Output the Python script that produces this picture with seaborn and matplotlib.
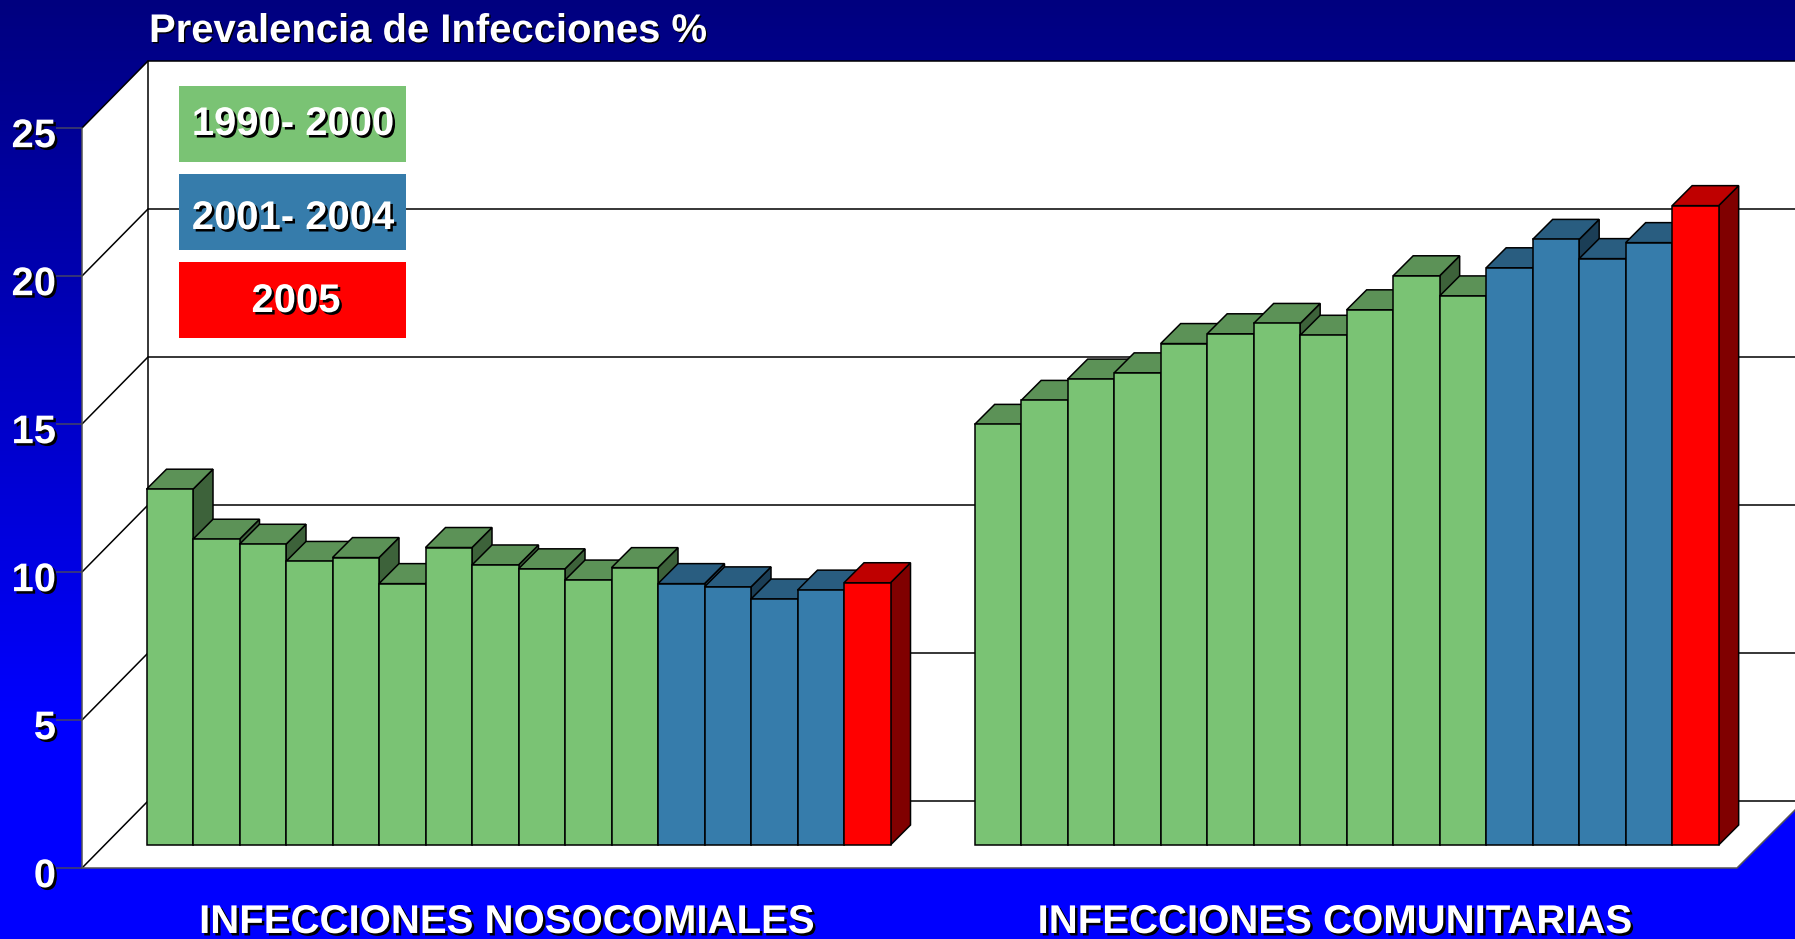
import numpy as np
import pandas as pd
import matplotlib
matplotlib.use("Agg")
import matplotlib.pyplot as plt
import matplotlib.patheffects as pe
from matplotlib.colors import LinearSegmentedColormap, to_rgb
from matplotlib.patches import Polygon, Rectangle
from matplotlib.transforms import Affine2D, ScaledTranslation
import seaborn as sns

OUTPUT = "out.png"
WIDTH, HEIGHT = 1795, 939

# valores
NOSOCOMIALES = [12.02, 10.33, 10.16, 9.58, 9.71, 8.83, 10.05, 9.46, 9.33, 8.95, 9.37,
                8.83, 8.72, 8.31, 8.61, 8.86]
COMUNITARIAS = [14.21, 15.02, 15.74, 15.95, 16.94, 17.27, 17.62, 17.22, 18.08, 19.23, 18.55,
                19.5, 20.46, 19.81, 20.35, 21.6]
PERIODOS = ["1990- 2000"] * 11 + ["2001- 2004"] * 4 + ["2005"]
COLORES = {"1990- 2000": "#7AC374", "2001- 2004": "#367CAB", "2005": "#FF0000"}
YTICKS = [0, 5, 10, 15, 20, 25]
TITULO = "Prevalencia de Infecciones %"
GRUPOS = ["INFECCIONES NOSOCOMIALES", "INFECCIONES COMUNITARIAS"]

# geometria en pixeles de la "caja" 3D
BAR_W = 46.5       # px por barra
UNIT = 29.6        # px por unidad de y
BASE_X = 146.5     # borde izquierdo de la primera barra
BASE_Y = 845       # base de las barras
GROUP_GAP = 1.81   # hueco entre grupos, en anchos de barra


def shade(color, factor):
    return tuple(c * factor for c in to_rgb(color))


def x_of(px):
    return (px - BASE_X) / BAR_W - 0.5


def y_of(px):
    return (BASE_Y - px) / UNIT


def shadow(offset=1.8):
    return [pe.withSimplePatchShadow(offset=(offset, -offset), shadow_rgbFace="black", alpha=1)]


def draw_box(ax):
    """Fondo degradado, paredes, piso y lineas de grilla."""
    stops = [(0, "#00007F"), (720 / HEIGHT, "#0000FF"), (1, "#0000FF")]
    cmap = LinearSegmentedColormap.from_list("fondo", stops)
    grad = np.linspace(0, 1, 256).reshape(-1, 1)
    ax.imshow(grad, extent=[x_of(0), x_of(WIDTH), y_of(HEIGHT), y_of(0)], cmap=cmap,
              aspect="auto", zorder=-1)

    x_front, x_back = x_of(82), x_of(148)
    right = x_of(WIDTH + 10)
    front_shift = (868 - BASE_Y) / UNIT   # el plano frontal queda por debajo de la base
    back_shift = (BASE_Y - 801) / UNIT
    top = 25

    ax.add_patch(Polygon([(x_back, back_shift), (right, back_shift), (right, top + back_shift),
                          (x_back, top + back_shift)], fc="white", ec="none", zorder=1))
    ax.add_patch(Polygon([(x_front, -front_shift), (x_back, back_shift),
                          (x_back, top + back_shift), (x_front, top - front_shift)],
                         fc="white", ec="none", zorder=1))
    ax.add_patch(Polygon([(x_front, -front_shift), (x_of(1737), -front_shift),
                          (x_of(1737 + 67), back_shift), (x_back, back_shift)],
                         fc="white", ec="none", zorder=1))

    for v in YTICKS:
        ax.plot([x_front, x_back, right], [v - front_shift, v + back_shift, v + back_shift],
                color="black", lw=1.1, zorder=2, solid_joinstyle="miter")
    ax.plot([x_back, x_back], [back_shift, top + back_shift], color="black", lw=1.1, zorder=2)
    ax.plot([x_front, x_front], [-front_shift, top - front_shift], color="#555555", lw=1.1, zorder=2)
    ax.plot([x_front, x_of(1737), x_of(1737 + 67)], [-front_shift, -front_shift, back_shift],
            color="#555555", lw=1.1, zorder=2)

    # eje y real sobre el plano frontal
    sec = ax.secondary_yaxis(82 / WIDTH, functions=(lambda y: y + front_shift, lambda v: v - front_shift))
    sec.set_yticks(YTICKS)
    sec.set_zorder(0.5)
    sec.tick_params(axis="y", length=18.7, width=1.1, color="#444466", pad=0,
                    labelcolor="white", labelsize=28.8)
    for spine in sec.spines.values():
        spine.set_visible(False)
    bajar = ScaledTranslation(0, -3 / 72, ax.figure.dpi_scale_trans)
    for label in sec.get_yticklabels():
        label.set_fontweight("bold")
        label.set_path_effects(shadow())
        label.set_transform(label.get_transform() + bajar)


def draw_bars(ax):
    values = NOSOCOMIALES + COMUNITARIAS
    pos = np.concatenate([np.arange(len(NOSOCOMIALES)),
                          np.arange(len(COMUNITARIAS)) + len(NOSOCOMIALES) + GROUP_GAP])
    df = pd.DataFrame({"pos": pos, "valor": values, "periodo": PERIODOS + PERIODOS})

    sns.barplot(data=df, x="pos", y="valor", hue="periodo", palette=COLORES, native_scale=True,
                dodge=False, width=1, saturation=1, edgecolor="black", linewidth=1.1,
                legend=False, ax=ax)

    # caras superior y lateral a partir de las barras que dibujo seaborn
    dx, dy = 20 / BAR_W, 20 / UNIT
    bars = sorted([p for p in ax.patches if isinstance(p, Rectangle)], key=lambda p: p.get_x())
    for i, bar in enumerate(bars):
        x0, x1, h = bar.get_x(), bar.get_x() + bar.get_width(), bar.get_height()
        color = bar.get_facecolor()[:3]
        z = 10 + 3 * i
        ax.add_patch(Polygon([(x1, 0), (x1 + dx, dy), (x1 + dx, h + dy), (x1, h)],
                             fc=shade(color, 0.5), ec="black", lw=1.1, zorder=z, joinstyle="miter"))
        ax.add_patch(Polygon([(x0, h), (x0 + dx, h + dy), (x1 + dx, h + dy), (x1, h)],
                             fc=shade(color, 0.75), ec="black", lw=1.1, zorder=z + 1, joinstyle="miter"))
        bar.set_zorder(z + 2)

    n = len(NOSOCOMIALES)
    centers = [pos[:n].mean() - 0.26, pos[n:].mean() - 0.26]
    for center, grupo in zip(centers, GRUPOS):
        ax.text(center, y_of(933), grupo, color="white", fontsize=28.9, fontweight="bold",
                ha="center", va="baseline", path_effects=shadow(), zorder=500)


def draw_legend(fig):
    # la leyenda vive en pixeles de la figura
    to_px = Affine2D().scale(1 / WIDTH, -1 / HEIGHT).translate(0, 1) + fig.transFigure
    cajas = [(86, 162), (174, 250), (262, 338)]
    texto_y = [124, 218, 301]
    texto_x = [293, 293, 296]
    for (top, bottom), periodo, ty, tx in zip(cajas, COLORES, texto_y, texto_x):
        fig.patches.append(Rectangle((179, top), 227, bottom - top, fc=COLORES[periodo], ec="none",
                                     transform=to_px, figure=fig, zorder=600))
        fig.text(tx, ty, periodo, transform=to_px,
                 color="white", fontsize=28.8, fontweight="bold", ha="center", va="center",
                 path_effects=shadow(), zorder=601)
    fig.text(149, 42, TITULO, transform=to_px, color="white", fontsize=28.8, fontweight="bold",
             va="baseline", path_effects=shadow(1.0), zorder=601)


def main():
    sns.set_theme(style="white")
    plt.rcParams["font.family"] = ["Liberation Sans", "DejaVu Sans"]

    fig = plt.figure(figsize=(WIDTH / 100, HEIGHT / 100), dpi=100)
    ax = fig.add_axes([0, 0, 1, 1])

    draw_box(ax)
    draw_bars(ax)
    draw_legend(fig)

    ax.set_xlim(x_of(0), x_of(WIDTH))
    ax.set_ylim(y_of(HEIGHT), y_of(0))
    ax.set_axis_off()

    fig.savefig(OUTPUT, dpi=100)
    plt.close(fig)


if __name__ == "__main__":
    main()
